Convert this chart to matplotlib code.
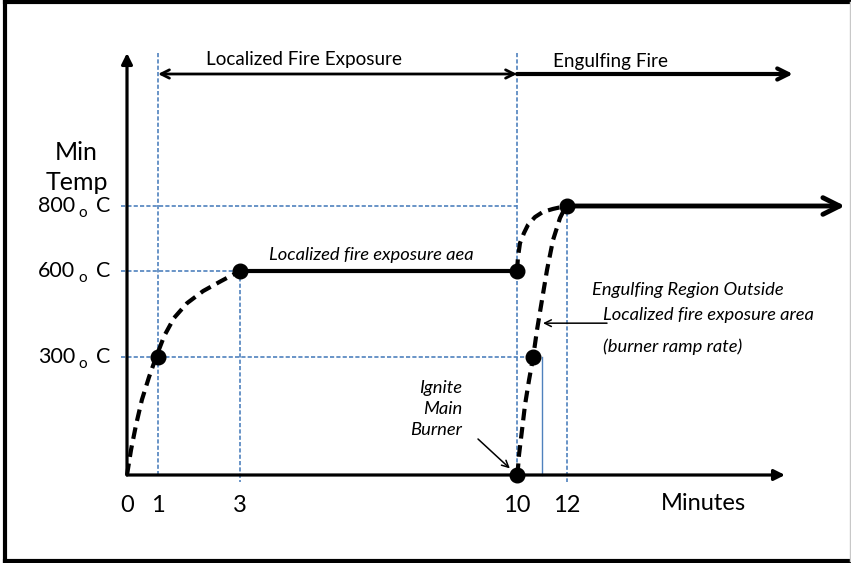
import numpy as np
import matplotlib
matplotlib.use("Agg")
import matplotlib.pyplot as plt
from matplotlib.lines import Line2D

plt.rcParams['font.family'] = ['Lato', 'DejaVu Sans']

W, H = 851, 563  # output size in pixels

# ---- data ----
minute_ticks = [0, 1, 3, 10, 12]
temp_ticks = [300, 600, 800]
phase_start = [1, 10]
phase_names = ["Localized Fire Exposure", "Engulfing Fire"]

# localized fire ramp 0 -> 600 C
local_ramp_min = [0, 0.13, 0.29, 0.48, 0.71, 0.94, 1.15, 1.39, 1.71, 2.10, 2.54, 3.0]
local_ramp_temp = [0, 64, 127, 191, 249, 300, 373, 436, 488, 530, 565, 600]

# plateau at 600 C between 3 and 10 min
plateau_min = [3, 10]
plateau_temp = [600, 600]

# localized area going up to 800 C after 10 min
engulf_ramp_min = [10, 10.04, 10.12, 10.28, 10.44, 10.72, 11.04, 11.44, 11.96]
engulf_ramp_temp = [600, 643, 686, 717, 742, 766, 782, 791, 800]

# main burner ramp 0 -> 800 C
burner_ramp_min = [10, 10.04, 10.08, 10.2, 10.32, 10.48, 10.64, 10.8, 11.0, 11.2, 11.44, 11.72, 11.96]
burner_ramp_temp = [0, 18, 51, 114, 178, 241, 297, 394, 499, 603, 695, 763, 800]

point_min = [1, 3, 10, 12, 10, 10.64]
point_temp = [300, 600, 600, 800, 0, 300]

# ---- sketch layout: the original is not to scale, so map values to pixels ----
X_KNOTS = ([0, 1, 3, 10, 12], [127, 158, 240, 517, 567])
Y_KNOTS = ([0, 300, 600, 800], [88, 206, 292, 357])  # pixels from bottom


def pw(v, xs, ys):
    v = np.asarray(v, dtype=float)
    xs = np.asarray(xs, dtype=float)
    ys = np.asarray(ys, dtype=float)
    out = np.interp(v, xs, ys)
    lo = (ys[1] - ys[0]) / (xs[1] - xs[0])
    hi = (ys[-1] - ys[-2]) / (xs[-1] - xs[-2])
    out = np.where(v < xs[0], ys[0] + (v - xs[0]) * lo, out)
    out = np.where(v > xs[-1], ys[-1] + (v - xs[-1]) * hi, out)
    return out


def xfwd(v): return pw(v, *X_KNOTS)
def xinv(p): return pw(p, X_KNOTS[1], X_KNOTS[0])
def yfwd(v): return pw(v, *Y_KNOTS)
def yinv(p): return pw(p, Y_KNOTS[1], Y_KNOTS[0])


def fx(px): return px / W
def fy(py): return 1 - py / H


BLUE = '#4F81BD'
NOTE = 13.2  # italic notes

fig = plt.figure(figsize=(W / 100, H / 100), dpi=100)
ax = fig.add_axes([0, 0, 1, 1])
ax.set_xscale('function', functions=(xfwd, xinv))
ax.set_yscale('function', functions=(yfwd, yinv))
ax.set_xlim(float(xinv(0)), float(xinv(W)))
ax.set_ylim(float(yinv(0)), float(yinv(H)))
ax.axis('off')

# blue guide lines
x_left = float(xinv(121))
top = float(yinv(H - 53))
below = float(yinv(H - 482))
for t, end in [(800, 10), (600, 3), (300, 10.64)]:
    ax.plot([x_left, end], [t, t], color=BLUE, lw=1.2, dashes=(2.5, 1.3), zorder=1)
for m, y0, y1 in [(1, top, 0), (10, top, 0), (3, 600, below), (12, 800, below)]:
    ax.plot([m, m], [y0, y1], color=BLUE, lw=1.2, dashes=(2.5, 1.3), zorder=1)
ax.plot([11, 11], [300, 0], color=BLUE, lw=1, zorder=1)

# axes with arrows
ax.annotate("", xy=(0, fy(53)), xycoords=('data', 'figure fraction'),
            xytext=(0, 0), textcoords='data',
            arrowprops=dict(arrowstyle='-|>', lw=2.3, color='k', mutation_scale=16,
                            shrinkA=0, shrinkB=0), zorder=3)
ax.annotate("", xy=(fx(785), 0), xycoords=('figure fraction', 'data'),
            xytext=(0, 0), textcoords='data',
            arrowprops=dict(arrowstyle='-|>', lw=2.3, color='k', mutation_scale=16,
                            shrinkA=0, shrinkB=0), zorder=3)

# phase arrows at the top
ax.annotate("", xy=(phase_start[0], fy(74)), xycoords=('data', 'figure fraction'),
            xytext=(phase_start[1], fy(74)), textcoords=('data', 'figure fraction'),
            arrowprops=dict(arrowstyle='<->', lw=2, color='k', mutation_scale=15,
                            shrinkA=0, shrinkB=0))
ax.annotate("", xy=(fx(793), fy(74)), xycoords='figure fraction',
            xytext=(phase_start[1], fy(74)), textcoords=('data', 'figure fraction'),
            arrowprops=dict(arrowstyle='->', lw=3, color='k', mutation_scale=20,
                            shrinkA=0, shrinkB=0))
fig.text(fx(206), fy(60), phase_names[0], fontsize=13.6, ha='left', va='center')
fig.text(fx(553), fy(62), phase_names[1], fontsize=13.6, ha='left', va='center')

# temperature curves
ax.plot(local_ramp_min, local_ramp_temp, color='k', lw=3, dashes=(2.8, 1.6), zorder=4)
ax.plot(engulf_ramp_min, engulf_ramp_temp, color='k', lw=3, dashes=(2.8, 1.6), zorder=4)
ax.plot(burner_ramp_min, burner_ramp_temp, color='k', lw=3, dashes=(2.8, 1.6), zorder=4)
ax.plot(plateau_min, plateau_temp, color='k', lw=3, solid_capstyle='butt', zorder=4)
ax.annotate("", xy=(fx(845), 800), xycoords=('figure fraction', 'data'),
            xytext=(12, 800), textcoords='data',
            arrowprops=dict(arrowstyle='->', lw=3.5, color='k', mutation_scale=30,
                            shrinkA=0, shrinkB=0), zorder=4)
ax.plot(point_min, point_temp, 'o', color='k', ms=10.5, zorder=5)

# tick labels
for m in minute_ticks:
    ax.text(m, fy(505), str(m), transform=ax.get_xaxis_transform(),
            ha='center', va='center', fontsize=17)
fig.text(fx(703), fy(503), "Minutes", fontsize=17, ha='center', va='center')

for t in temp_ticks:
    tr = ax.get_yaxis_transform()
    ax.text(fx(75), t, str(t), transform=tr, ha='right', va='center', fontsize=15.5)
    ax.annotate("o", xy=(fx(83), t), xycoords=tr, xytext=(0, -5), textcoords='offset points',
                ha='center', va='center', fontsize=11)
    ax.text(fx(96), t, "C", transform=tr, ha='left', va='center', fontsize=15.5)

fig.text(fx(76), fy(153), "Min", fontsize=18, ha='center', va='center')
fig.text(fx(77), fy(182), "Temp", fontsize=18, ha='center', va='center')

# notes
fig.text(fx(371), fy(255), "Localized fire exposure aea", fontsize=NOTE, style='italic',
         ha='center', va='center')
fig.text(fx(462), fy(409), "Ignite\nMain\nBurner", fontsize=NOTE, style='italic',
         ha='right', va='center', linespacing=1.35)
ax.annotate("", xy=(10, 0), xytext=(fx(478), fy(439)), textcoords='figure fraction',
            arrowprops=dict(arrowstyle='->', lw=1.1, color='k', mutation_scale=12,
                            shrinkA=0, shrinkB=7))
fig.text(fx(592), fy(290), "Engulfing Region Outside", fontsize=NOTE, style='italic',
         ha='left', va='center')
fig.text(fx(603), fy(315), "Localized fire exposure area", fontsize=NOTE, style='italic',
         ha='left', va='center')
fig.text(fx(603), fy(347), "(burner ramp rate)", fontsize=NOTE, style='italic',
         ha='left', va='center')
ax.annotate("", xy=(11.04, 418), xytext=(fx(607), 418),
            textcoords=('figure fraction', 'data'),
            arrowprops=dict(arrowstyle='->', lw=1.1, color='k', mutation_scale=12,
                            shrinkA=0, shrinkB=0))

# frame around the picture
for (x0, y0, x1, y1) in [(5, 2, 5, 561), (5, 2, 850, 2), (5, 561, 850, 561)]:
    fig.add_artist(Line2D([fx(x0), fx(x1)], [fy(y0), fy(y1)], color='k', lw=3,
                          transform=fig.transFigure))
fig.add_artist(Line2D([fx(850), fx(850)], [fy(2), fy(561)], color='#c8c8c8', lw=1,
                      transform=fig.transFigure))

fig.savefig('out.png', dpi=100, facecolor='white')
